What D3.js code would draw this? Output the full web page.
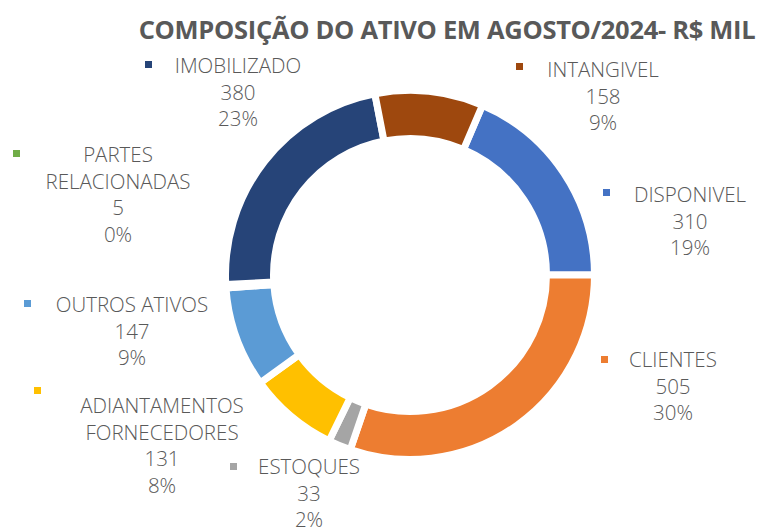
<!DOCTYPE html>
<html>
<head>
<meta charset="utf-8">
<script src="https://cdn.jsdelivr.net/npm/d3@7"></script>
<style>
  html, body { margin: 0; padding: 0; background: #fff; }
  svg { display: block; }
</style>
</head>
<body>
<svg id="chart" width="763" height="527"></svg>
<script>
// ---- data ----
const categories = ["DISPONIVEL", "CLIENTES", "ESTOQUES", "ADIANTAMENTOS FORNECEDORES", "OUTROS ATIVOS", "PARTES RELACIONADAS", "IMOBILIZADO", "INTANGIVEL"];
const values = [310, 505, 33, 131, 147, 5, 380, 158];
const colors = ["#4472C4", "#ED7D31", "#A5A5A5", "#FFC000", "#5B9BD5", "#70AD47", "#264478", "#9E480E"];
const title = "COMPOSIÇÃO DO ATIVO EM AGOSTO/2024- R$ MIL";

// label lines (category names split as in the chart)
const labelLines = {
  "DISPONIVEL": ["DISPONIVEL"],
  "CLIENTES": ["CLIENTES"],
  "ESTOQUES": ["ESTOQUES"],
  "ADIANTAMENTOS FORNECEDORES": ["ADIANTAMENTOS", "FORNECEDORES"],
  "OUTROS ATIVOS": ["OUTROS ATIVOS"],
  "PARTES RELACIONADAS": ["PARTES", "RELACIONADAS"],
  "IMOBILIZADO": ["IMOBILIZADO"],
  "INTANGIVEL": ["INTANGIVEL"]
};

// ---- layout (manually placed labels, as in the original) ----
const layout = {
  cx: 410, cy: 275, outer: 181, inner: 140, gap: 7,
  startDeg: 23.1
};
const labelPos = {  // text-centre x, first baseline y, key square x, key square y
  "DISPONIVEL":                 {x: 690, y: 202, kx: 603, ky: 189},
  "CLIENTES":                   {x: 673, y: 367, kx: 601, ky: 356},
  "ESTOQUES":                   {x: 309, y: 474, kx: 230, ky: 463},
  "ADIANTAMENTOS FORNECEDORES": {x: 162, y: 413, kx: 34,  ky: 387},
  "OUTROS ATIVOS":              {x: 132, y: 312, kx: 24,  ky: 300},
  "PARTES RELACIONADAS":        {x: 118, y: 162, kx: 13,  ky: 150},
  "IMOBILIZADO":                {x: 238, y: 73,  kx: 145, ky: 61},
  "INTANGIVEL":                 {x: 603, y: 77,  kx: 516, ky: 63}
};
const lineH = 26.5;
const textColor = "#595959";

const svg = d3.select("#chart");

// title
svg.append("text")
  .attr("x", 447).attr("y", 39)
  .attr("text-anchor", "middle")
  .attr("font-family", "'Open Sans', sans-serif")
  .attr("font-weight", 700)
  .attr("font-size", 25.5)
  .attr("letter-spacing", -0.3)
  .attr("fill", textColor)
  .text(title);

// donut
const data = categories.map((c, i) => ({name: c, value: values[i], color: colors[i]}));
const total = d3.sum(values);
const start = layout.startDeg * Math.PI / 180;
const pie = d3.pie().value(d => d.value).sort(null)
  .startAngle(start).endAngle(start + 2 * Math.PI);
const arc = d3.arc()
  .innerRadius(layout.inner - layout.gap / 2)
  .outerRadius(layout.outer + layout.gap / 2);

const g = svg.append("g").attr("transform", `translate(${layout.cx},${layout.cy})`);
g.selectAll("path").data(pie(data)).join("path")
  .attr("d", arc)
  .attr("fill", d => d.data.color)
  .attr("stroke", "#fff")
  .attr("stroke-width", layout.gap)
  .attr("stroke-linejoin", "miter");

// labels
const fmtPct = v => Math.round(v / total * 100) + "%";
const lab = svg.append("g")
  .attr("font-family", "'Open Sans', sans-serif")
  .attr("font-weight", 300)
  .attr("font-size", 20.5)
  .attr("fill", textColor);

data.forEach(d => {
  const p = labelPos[d.name];
  const lines = labelLines[d.name].concat([String(d.value), fmtPct(d.value)]);
  lab.append("rect")
    .attr("x", p.kx).attr("y", p.ky)
    .attr("width", 7).attr("height", 7)
    .attr("fill", d.color);
  const t = lab.append("text").attr("text-anchor", "middle");
  lines.forEach((ln, i) => {
    t.append("tspan").attr("x", p.x).attr("y", p.y + i * lineH).text(ln);
  });
});
</script>
</body>
</html>
